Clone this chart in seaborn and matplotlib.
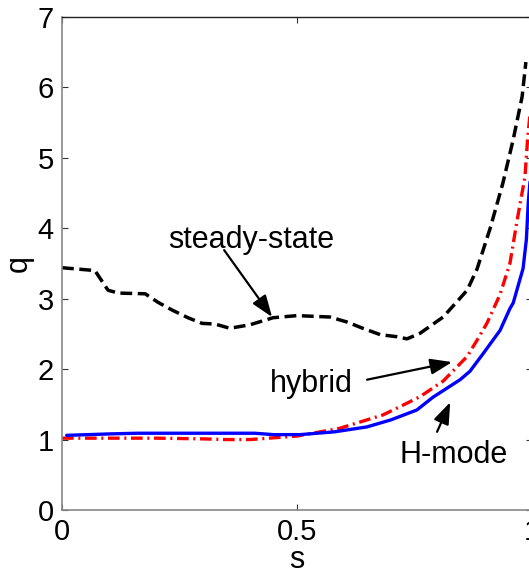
import matplotlib
matplotlib.use('Agg')
import numpy as np
import pandas as pd
import matplotlib.pyplot as plt
import seaborn as sns

# q profiles vs s
s_steady = [0.0, 0.07, 0.098, 0.12, 0.177, 0.204, 0.234, 0.268, 0.298, 0.326, 0.357,
            0.40, 0.449, 0.50, 0.57, 0.606, 0.64, 0.677, 0.713, 0.734, 0.762, 0.811,
            0.862, 0.883, 0.911, 0.938, 0.96, 0.979, 0.987]
q_steady = [3.44, 3.40, 3.12, 3.08, 3.07, 2.95, 2.84, 2.73, 2.65, 2.64, 2.58,
            2.63, 2.73, 2.76, 2.74, 2.67, 2.58, 2.49, 2.46, 2.43, 2.51, 2.74,
            3.12, 3.42, 4.00, 4.64, 5.26, 5.87, 6.36]

s_hybrid = [0.0, 0.1, 0.2, 0.3, 0.35, 0.4, 0.5, 0.591, 0.683, 0.726, 0.762, 0.811,
            0.862, 0.883, 0.904, 0.932, 0.953, 0.968, 0.985, 0.991, 1.0]
q_hybrid = [1.02, 1.02, 1.02, 1.01, 1.00, 1.00, 1.05, 1.16, 1.35, 1.49, 1.61, 1.83,
            2.18, 2.41, 2.65, 3.06, 3.50, 4.10, 4.73, 5.30, 5.90]

s_hmode = [0.01, 0.1, 0.16, 0.3, 0.41, 0.45, 0.506, 0.58, 0.649, 0.70, 0.755, 0.789,
           0.847, 0.868, 0.896, 0.932, 0.953, 0.96, 0.981, 0.988, 0.992, 1.0]
q_hmode = [1.06, 1.08, 1.09, 1.09, 1.09, 1.07, 1.07, 1.11, 1.18, 1.28, 1.42, 1.60,
           1.85, 1.97, 2.22, 2.55, 2.86, 2.94, 3.43, 3.84, 4.36, 5.00]

sns.set_style("ticks")
plt.rcParams['font.family'] = ['Liberation Sans', 'DejaVu Sans']
plt.rcParams['text.color'] = 'black'
plt.rcParams['axes.labelcolor'] = 'black'
plt.rcParams['xtick.labelcolor'] = 'black'
plt.rcParams['ytick.labelcolor'] = 'black'

fig = plt.figure(figsize=(5.29, 5.70), dpi=100)
ax = fig.add_axes([62/529, 60/570, 470/529, 493/570])

sns.lineplot(x=s_steady, y=q_steady, ax=ax, color='black', lw=2.5,
             linestyle=(0, (3.4, 1.6)))
sns.lineplot(x=s_hybrid, y=q_hybrid, ax=ax, color='#ff0000', lw=2.4,
             linestyle=(0, (3.5, 1.4, 0.6, 1.4)))
sns.lineplot(x=s_hmode, y=q_hmode, ax=ax, color='#0000ff', lw=2.4)

ax.set_xlim(0, 1)
ax.set_ylim(0, 7)
ax.set_xticks([0, 0.5, 1])
ax.set_xticklabels(['0', '0.5', '1'])
ax.set_yticks(range(8))

ax.tick_params(direction='in', length=4, width=0.8, labelsize=21, pad=6,
               top=True, right=True, color='#333333')
for side in ['left', 'bottom']:
    ax.spines[side].set_color('#888888')
    ax.spines[side].set_linewidth(1.2)
for side in ['top', 'right']:
    ax.spines[side].set_color('#222222')
    ax.spines[side].set_linewidth(1.0)

ax.set_xlabel('s', fontsize=22)
ax.set_ylabel('q', fontsize=22)
ax.xaxis.set_label_coords(0.5, -0.072)
ax.yaxis.set_label_coords(-0.06, 0.5)

# annotations
arrow = dict(arrowstyle='-|>,head_length=0.6,head_width=0.22', color='black',
             lw=1.6, mutation_scale=22, shrinkA=0, shrinkB=0)
ax.text(0.402, 3.72, 'steady-state', fontsize=22, ha='center', va='baseline')
ax.annotate('', xy=(0.447, 2.74), xytext=(0.345, 3.69), arrowprops=arrow)
ax.text(0.531, 1.68, 'hybrid', fontsize=22, ha='center', va='baseline')
ax.annotate('', xy=(0.830, 2.10), xytext=(0.649, 1.85), arrowprops=arrow)
ax.text(0.834, 0.67, 'H-mode', fontsize=22, ha='center', va='baseline')
ax.annotate('', xy=(0.826, 1.53), xytext=(0.798, 1.11), arrowprops=arrow)

fig.savefig('out.png', dpi=100)
